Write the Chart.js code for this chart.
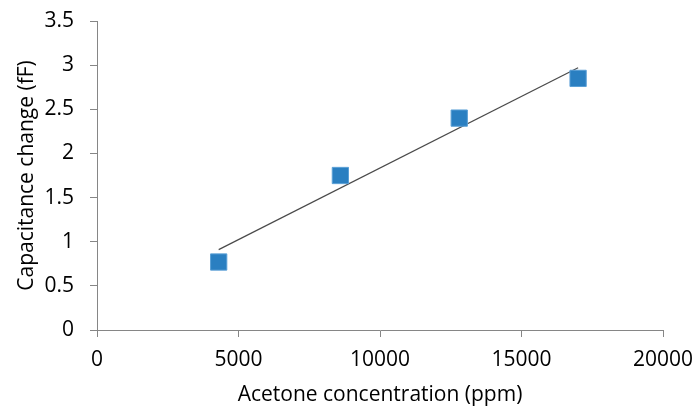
<!DOCTYPE html>
<html>
<head>
<meta charset="utf-8">
<script src="https://cdn.jsdelivr.net/npm/chart.js@4"></script>
<style>
  html, body { margin: 0; padding: 0; background: #fff; }
  #box { width: 697px; height: 410px; }
</style>
</head>
<body>
<div id="box"><canvas id="grafico"></canvas></div>
<script>
// dados
var concentracao = [4300, 8600, 12800, 17000];
var capacitancia = [0.77, 1.75, 2.40, 2.85];
// linha de tendencia (pontas)
var tendenciaX = [4300, 17000];
var tendenciaY = [0.91, 2.97];
var ticksX = [0, 5000, 10000, 15000, 20000];
var ticksY = [0, 0.5, 1, 1.5, 2, 2.5, 3, 3.5];

var fonte = "'Open Sans', sans-serif";
var corEixo = "#868686";

var pontos = concentracao.map(function (x, i) { return { x: x, y: capacitancia[i] }; });
var linha = tendenciaX.map(function (x, i) { return { x: x, y: tendenciaY[i] }; });

function semFormato(v) { return String(v); }

new Chart(document.getElementById("grafico"), {
    type: "scatter",
    data: {
        datasets: [
            {
                label: "Tendencia",
                data: linha,
                showLine: true,
                borderColor: "#4a4a4a",
                borderWidth: 1.2,
                pointRadius: 0,
                order: 2
            },
            {
                label: "Capacitance",
                data: pontos,
                pointStyle: "rect",
                pointRadius: 11.5,
                pointHoverRadius: 11.5,
                backgroundColor: "#2a7fc1",
                borderColor: "#5a9fd6",
                borderWidth: 1,
                order: 1
            }
        ]
    },
    options: {
        responsive: true,
        maintainAspectRatio: false,
        animation: false,
        layout: { padding: { left: 8, right: 34, top: 21, bottom: 0 } },
        plugins: { legend: { display: false }, tooltip: { enabled: false } },
        scales: {
            x: {
                type: "linear",
                min: 0, max: 20000,
                afterBuildTicks: function (ax) { ax.ticks = ticksX.map(function (v) { return { value: v }; }); },
                afterFit: function (ax) { ax.height = 80; ax.paddingRight = 0; ax.paddingLeft = 0; },
                grid: { drawOnChartArea: false, color: corEixo, tickLength: 7 },
                border: { color: corEixo },
                ticks: { color: "#000", font: { family: fonte, size: 21 }, padding: 10, maxRotation: 0,
                         callback: semFormato },
                title: { display: true, text: "Acetone concentration (ppm)", color: "#000",
                         font: { family: fonte, size: 21 }, padding: { top: 6, bottom: 2 } }
            },
            y: {
                type: "linear",
                min: 0, max: 3.5,
                afterBuildTicks: function (ax) { ax.ticks = ticksY.map(function (v) { return { value: v }; }); },
                afterFit: function (ax) { ax.width = 89; ax.paddingTop = 0; ax.paddingBottom = 0; },
                grid: { drawOnChartArea: false, color: corEixo, tickLength: 7 },
                border: { color: corEixo },
                ticks: { color: "#000", font: { family: fonte, size: 21 }, padding: 16,
                         callback: semFormato },
                title: { display: true, text: "Capacitance change (fF)", color: "#000",
                         font: { family: fonte, size: 21 }, padding: { top: 6, bottom: 0 } }
            }
        }
    }
});
</script>
</body>
</html>
